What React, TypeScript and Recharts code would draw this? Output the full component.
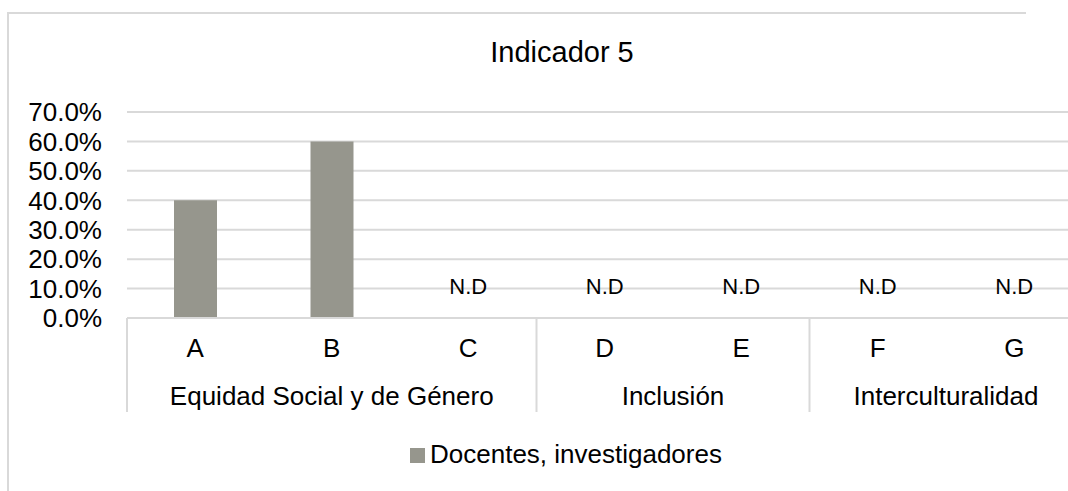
import React from "react";
import { BarChart, Bar, XAxis, YAxis, CartesianGrid, Legend } from "recharts";

const categories = ["A", "B", "C", "D", "E", "F", "G"];
const docentes = [0.4, 0.6, 0, 0, 0, 0, 0];
const notes = ["", "", "N.D", "N.D", "N.D", "N.D", "N.D"];
const groupNames = ["Equidad Social y de Género", "Inclusión", "Interculturalidad"];
const groupSpans = [3, 2, 2];
const yTicks = [0, 0.1, 0.2, 0.3, 0.4, 0.5, 0.6, 0.7];

const data = categories.map((cat, i) => ({ cat, value: docentes[i], note: notes[i] }));

const W = 1100;
const H = 491;
const LEFT = 127;
const RIGHT = 17.5;
const BAND = (W - LEFT - RIGHT) / categories.length;
const BAR = "#96968d";
const LINE = "#d9d9d9";
const FONT = "'Liberation Sans', Arial, sans-serif";

const groupStarts = groupSpans.map((_, g) => groupSpans.slice(0, g).reduce((a, b) => a + b, 0));

// category letters, group labels with separators, and the "N.D" notes above the axis
function CatTick(props: any) {
  const { x, y, payload } = props;
  const i = payload.index;
  const g = groupStarts.indexOf(i);
  const left = x - BAND / 2;
  return (
    <g>
      {notes[i] && (
        <text x={x} y={y - 24} textAnchor="middle" fontSize={22} fill="#000" fontFamily={FONT}>
          {notes[i]}
        </text>
      )}
      <text x={x} y={y + 39} textAnchor="middle" fontSize={26} fill="#000" fontFamily={FONT}>
        {payload.value}
      </text>
      {g >= 0 && (
        <>
          <line x1={left} x2={left} y1={y} y2={y + 94} stroke={LINE} strokeWidth={2} />
          <text x={left + (groupSpans[g] * BAND) / 2} y={y + 87} textAnchor="middle" fontSize={26} fill="#000" fontFamily={FONT}>
            {groupNames[g]}
          </text>
        </>
      )}
      {i === categories.length - 1 && (
        <line x1={x + BAND / 2} x2={x + BAND / 2} y1={y} y2={y + 94} stroke={LINE} strokeWidth={2} />
      )}
    </g>
  );
}

function LegendBox() {
  return (
    <div style={{ fontFamily: FONT, fontSize: 26, lineHeight: "30px", color: "#000", whiteSpace: "nowrap" }}>
      <span style={{ display: "inline-block", width: 15, height: 15, background: BAR, marginRight: 5 }} />
      Docentes, investigadores
    </div>
  );
}

export default function App() {
  return (
    <div style={{ position: "absolute", left: 0, top: 0, width: 1068, height: 491, overflow: "hidden", background: "#fff" }}>
      <div style={{ position: "absolute", left: 7, top: 12, width: 1019, height: 2, background: LINE }} />
      <div style={{ position: "absolute", left: 7, top: 12, width: 2, height: 479, background: LINE }} />
      <div
        style={{
          position: "absolute",
          left: 0,
          top: 36,
          width: 1124,
          textAlign: "center",
          fontFamily: FONT,
          fontSize: 29,
          lineHeight: "33px",
          color: "#000",
        }}
      >
        Indicador 5
      </div>
      <div style={{ position: "absolute", left: 0, top: 0 }}>
        <BarChart width={W} height={H} data={data} margin={{ top: 112, right: RIGHT, bottom: 33, left: 0 }}>
          <CartesianGrid vertical={false} stroke={LINE} strokeWidth={2} />
          <XAxis
            dataKey="cat"
            height={110}
            interval={0}
            tickSize={0}
            tickMargin={0}
            tickLine={false}
            axisLine={{ stroke: LINE, strokeWidth: 2 }}
            tick={<CatTick />}
          />
          <YAxis
            width={127}
            domain={[0, 0.7]}
            ticks={yTicks}
            interval={0}
            tickSize={0}
            tickMargin={25}
            axisLine={false}
            tickLine={false}
            tickFormatter={(v: number) => (v * 100).toFixed(1) + "%"}
            tick={{ fontSize: 26, fill: "#000", fontFamily: FONT }}
          />
          <Legend content={<LegendBox />} wrapperStyle={{ left: 410, top: 439, width: "auto" }} />
          <Bar dataKey="value" name="Docentes, investigadores" fill={BAR} barSize={43} isAnimationActive={false} />
        </BarChart>
      </div>
    </div>
  );
}
